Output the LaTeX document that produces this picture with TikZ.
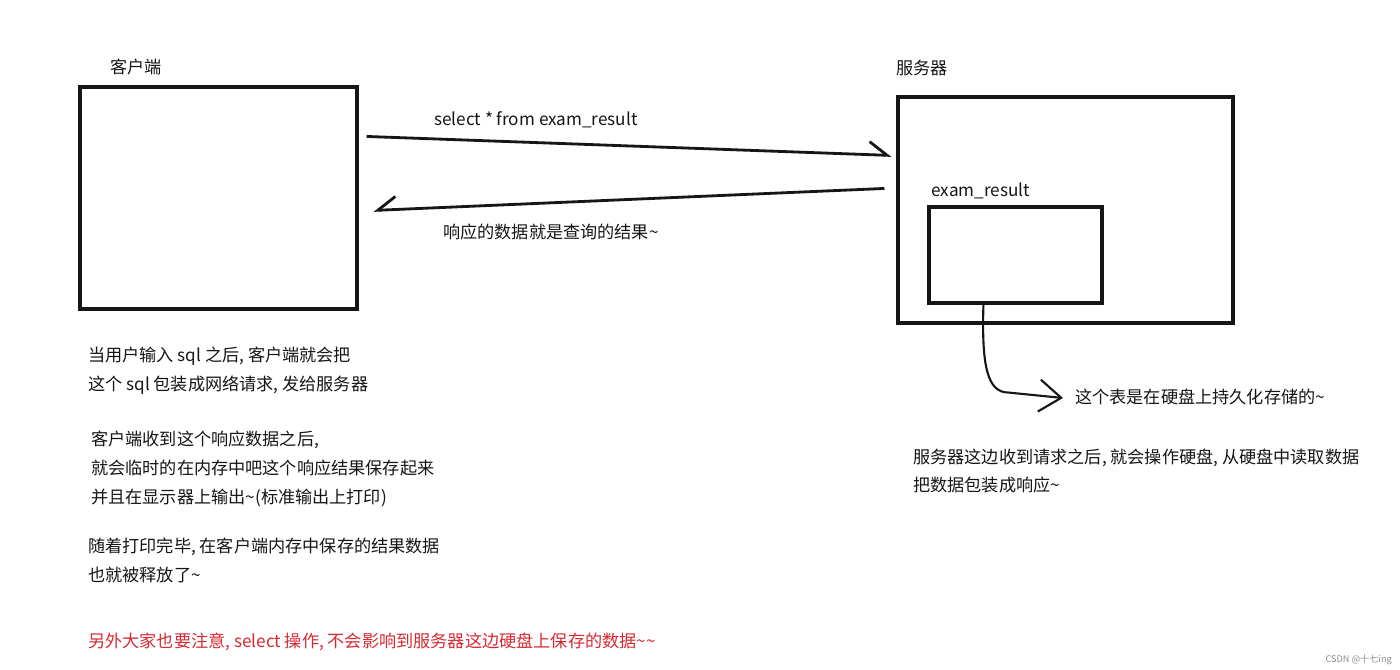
\documentclass[tikz,border=0pt]{standalone}
\usepackage{fontspec}
\setmainfont{Noto Sans CJK SC}
\usetikzlibrary{arrows.meta,positioning,fit,calc}
\definecolor{ink}{RGB}{22,22,22}
\definecolor{inkred}{RGB}{214,42,52}
\tikzset{
 box/.style={draw=ink,line width=2.2pt,inner sep=0pt},
 boxtitle/.style={anchor=west,inner sep=0pt,text=ink,
             font=\fontsize{12.2pt}{14pt}\selectfont},
 note/.style={anchor=west,inner sep=0pt,align=left,text=ink,
             font=\fontsize{12.2pt}{20.5pt}\selectfont},
 arrow/.style={-{Straight Barb[left,length=0.45cm,width=0.65cm]},line width=2pt,draw=ink},
 backarrow/.style={-{Straight Barb[right,length=0.45cm,width=0.65cm]},line width=2pt,draw=ink},
 curvearrow/.style={-{Straight Barb[length=0.55cm,width=0.8cm]},line width=1.5pt,draw=ink}
}

\begin{document}
\begin{tikzpicture}[x=0.025cm,y=-0.025cm]
\fill[white] (0,0) rectangle (1400,670);
\useasboundingbox (0,0) rectangle (1400,670);

% client and server
\node[box,fit={(80,87) (357,309)}] (client) {};
\node[box,fit={(898,97) (1233,323)}] (server) {};
\node[box,fit={(929,207) (1102,303)}] (table) {};
\node[boxtitle] (clienttitle) at (110,67) {客户端};
\node[boxtitle] (servertitle) at (896,68) {服务器};
\node[boxtitle] (tabletitle) at (931,191) {exam\_result};

% request / response
\draw[arrow] ($(client.north east)+(8,51)$) -- ($(server.north west)+(-5,60)$);
\draw[backarrow] ($(server.north west)+(-12,93)$) -- ($(client.north east)+(15,125)$);
\node[boxtitle] (query) at (434,120) {select * from exam\_result};
\node[boxtitle] (reply) at (443,232) {响应的数据就是查询的结果\textasciitilde};

% table on disk
\node[boxtitle] (disk) at (1075,397) {这个表是在硬盘上持久化存储的\textasciitilde};
\coordinate (tablefoot) at ($(table.south west)+(56,0)$);
\draw[curvearrow] (tablefoot) .. controls ($(tablefoot)+(-2,62)$) and ($(tablefoot)+(4,88)$)
  .. ($(tablefoot)+(25,88)$) -- ($(disk.west)+(-12,1)$);

% notes
\node[note] (sendnote) at (88,370.5) {当用户输入 sql 之后, 客户端就会把\\这个 sql 包装成网络请求, 发给服务器};
\node[note] (recvnote) at (91,469) {客户端收到这个响应数据之后,\\就会临时的在内存中吧这个响应结果保存起来\\并且在显示器上输出\textasciitilde(标准输出上打印)};
\node[note] (freenote) at (88,560.5) {随着打印完毕, 在客户端内存中保存的结果数据\\也就被释放了\textasciitilde};
\node[note] (servernote) at (913,471) {服务器这边收到请求之后, 就会操作硬盘, 从硬盘中读取数据\\把数据包装成响应\textasciitilde};
\node[note,text=inkred] (warnnote) at (88,642) {另外大家也要注意, select 操作, 不会影响到服务器这边硬盘上保存的数据\textasciitilde\textasciitilde};
\node[anchor=east,inner sep=0pt,text=black!45,font=\fontsize{6.5pt}{8pt}\selectfont] (mark) at (1392,660) {CSDN @十七ing};
\end{tikzpicture}
\end{document}
